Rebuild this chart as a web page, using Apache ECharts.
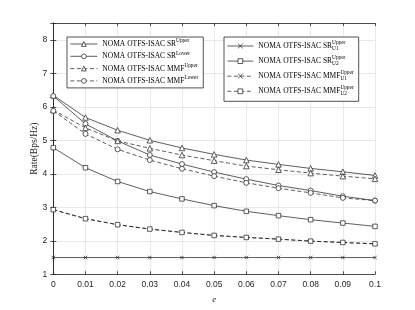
<!DOCTYPE html>
<html>
<head>
<meta charset="utf-8">
<script src="https://cdn.jsdelivr.net/npm/echarts@6/dist/echarts.min.js"></script>
<style>html,body{margin:0;padding:0;background:#fff;}#c{width:415px;height:310px;}</style>
</head>
<body>
<div id="c"></div>
<script>
const eValues = [0, 0.01, 0.02, 0.03, 0.04, 0.05, 0.06, 0.07, 0.08, 0.09, 0.1];
const srUpper   = [6.34, 5.68, 5.30, 5.00, 4.77, 4.58, 4.41, 4.28, 4.16, 4.06, 3.95];
const srLower   = [6.32, 5.49, 4.98, 4.56, 4.29, 4.05, 3.84, 3.65, 3.50, 3.33, 3.20];
const mmfUpper  = [5.90, 5.37, 4.98, 4.76, 4.56, 4.39, 4.23, 4.12, 4.02, 3.93, 3.85];
const mmfLower  = [5.88, 5.19, 4.73, 4.41, 4.15, 3.93, 3.73, 3.57, 3.43, 3.28, 3.20];
const srU1Upper = [1.5, 1.5, 1.5, 1.5, 1.5, 1.5, 1.5, 1.5, 1.5, 1.5, 1.5];
const srU2Upper = [4.78, 4.18, 3.77, 3.47, 3.25, 3.05, 2.88, 2.75, 2.63, 2.53, 2.43];
const mmfU1Upper = [2.93, 2.66, 2.48, 2.35, 2.25, 2.16, 2.10, 2.05, 1.99, 1.95, 1.91];
const mmfU2Upper = [2.93, 2.66, 2.48, 2.35, 2.25, 2.16, 2.10, 2.05, 1.99, 1.95, 1.91];

const legendLeftNames = ['SR_Upper', 'SR_Lower', 'MMF_Upper', 'MMF_Lower'];
const legendLeftMain = ['NOMA OTFS-ISAC SR', 'NOMA OTFS-ISAC SR', 'NOMA OTFS-ISAC MMF', 'NOMA OTFS-ISAC MMF'];
const legendLeftSup = ['Upper', 'Lower', 'Upper', 'Lower'];
const legendRightNames = ['SR_U1', 'SR_U2', 'MMF_U1', 'MMF_U2'];
const legendRightMain = ['NOMA OTFS-ISAC SR', 'NOMA OTFS-ISAC SR', 'NOMA OTFS-ISAC MMF', 'NOMA OTFS-ISAC MMF'];
const legendRightSup = ['Upper', 'Upper', 'Upper', 'Upper'];
const legendRightSub = ['U1', 'U2', 'U1', 'U2'];

const FONT_MAIN = 7.5, FONT_SCRIPT = 5.3;
const serif = '"Liberation Serif", "DejaVu Serif", serif';
const cv = document.createElement('canvas').getContext('2d');
function tw(t, fs) { cv.font = fs + 'px "Liberation Serif"'; return cv.measureText(t).width; }

const crossPath = 'path://M0,0L10,10M10,0L0,10';
const LW = 0.7, LC = '#1a1a1a';
function mkSeries(name, data, symbol, size, dashed) {
  return {
    name: name, type: 'line',
    data: eValues.map((x, i) => [x, data[i]]),
    symbol: symbol, symbolSize: size,
    lineStyle: { color: LC, width: LW, type: dashed ? [4, 2.5] : 'solid' },
    itemStyle: { color: '#fff', borderColor: LC, borderWidth: LW },
    emphasis: { disabled: true },
    animation: false
  };
}

const series = [
  mkSeries('SR_Upper', srUpper, 'triangle', 5.5, false),
  mkSeries('SR_Lower', srLower, 'circle', 5, false),
  mkSeries('MMF_Upper', mmfUpper, 'triangle', 5.5, true),
  mkSeries('MMF_Lower', mmfLower, 'circle', 5, true),
  mkSeries('SR_U1', srU1Upper, crossPath, 3.5, false),
  mkSeries('SR_U2', srU2Upper, 'rect', 4.5, false),
  mkSeries('MMF_U1', mmfU1Upper, crossPath, 3.5, true),
  mkSeries('MMF_U2', mmfU2Upper, 'rect', 4.5, true)
];

// legend geometry
const L1 = { left: 67, top: 37, pad: [3, 4, 3, 3], iw: 27, ih: 6, lh: 8, gap: 4.3 };
const L2 = { left: 224, top: 37, pad: [5, 4, 6, 3], iw: 26, ih: 6, lh: 8, gap: 7.1 };

function mkLegend(L, names, mains, spW) {
  return {
    data: names, orient: 'vertical', left: L.left, top: L.top,
    padding: L.pad, itemWidth: L.iw, itemHeight: L.ih, itemGap: L.gap,
    borderColor: '#262626', borderWidth: 0.8, backgroundColor: '#fff',
    selectedMode: false,
    itemStyle: { color: '#fff', borderColor: LC, borderWidth: LW },
    lineStyle: { width: LW, color: LC },
    textStyle: { fontFamily: serif, fontSize: FONT_MAIN, color: '#000', lineHeight: L.lh,
      rich: { sp: { width: spW, fontSize: FONT_MAIN, lineHeight: L.lh } } },
    formatter: function (n) { return mains[names.indexOf(n)] + '{sp|}'; }
  };
}

const sp1 = Math.max(...legendLeftSup.map(s => tw(s, FONT_SCRIPT))) + 1;
const sp2 = Math.max(...legendRightSup.map(s => tw(s, FONT_SCRIPT))) + 1;

const graphics = [];
legendLeftMain.forEach((m, i) => {
  const x = L1.left + L1.pad[3] + L1.iw + 5 + tw(m, FONT_MAIN) + 0.3;
  const cy = L1.top + L1.pad[0] + L1.lh / 2 + i * (L1.lh + L1.gap);
  graphics.push({ type: 'text', left: x, top: cy - 5.6, z: 100,
    style: { text: legendLeftSup[i], fontFamily: serif, fontSize: FONT_SCRIPT, fill: '#000' } });
});
legendRightMain.forEach((m, i) => {
  const x = L2.left + L2.pad[3] + L2.iw + 5 + tw(m, FONT_MAIN) + 0.3;
  const cy = L2.top + L2.pad[0] + L2.lh / 2 + i * (L2.lh + L2.gap);
  graphics.push({ type: 'text', left: x, top: cy - 6.2, z: 100,
    style: { text: legendRightSup[i], fontFamily: serif, fontSize: FONT_SCRIPT, fill: '#000' } });
  graphics.push({ type: 'text', left: x, top: cy - 0.3, z: 100,
    style: { text: legendRightSub[i], fontFamily: serif, fontSize: FONT_SCRIPT, fill: '#000' } });
});

const axisCol = '#262626';
const labelStyle = { fontFamily: '"Liberation Sans", Arial, sans-serif', fontSize: 8.5, color: axisCol };
const xFmt = v => String(Math.round(v * 100) / 100);
const yFmt = v => (Math.abs(v - Math.round(v)) < 1e-9 ? String(Math.round(v)) : '');

const chart = echarts.init(document.getElementById('c'), null, { renderer: 'canvas' });
chart.setOption({
  animation: false,
  backgroundColor: '#fff',
  grid: { left: 53.3, right: 40, top: 23, bottom: 35.7, containLabel: false },
  xAxis: [
    { type: 'value', position: 'bottom', min: 0, max: 0.1, interval: 0.01,
      axisLine: { show: true, lineStyle: { color: axisCol, width: 0.8 } },
      axisTick: { show: true, inside: true, length: 3, lineStyle: { color: axisCol, width: 0.8 } },
      axisLabel: Object.assign({ formatter: xFmt, margin: 6 }, labelStyle),
      splitLine: { show: true, lineStyle: { color: '#e3e3e3', width: 0.8 } },
      name: 'e', nameLocation: 'middle', nameGap: 21, nameMoveOverlap: false,
      nameTextStyle: { fontFamily: serif, fontStyle: 'italic', fontSize: 9, color: axisCol } },
    { type: 'value', position: 'top', min: 0, max: 0.1, interval: 0.01,
      axisLine: { show: true, lineStyle: { color: axisCol, width: 0.8 } },
      axisTick: { show: true, inside: true, length: 3, lineStyle: { color: axisCol, width: 0.8 } },
      axisLabel: { show: false }, splitLine: { show: false } }
  ],
  yAxis: [
    { type: 'value', position: 'left', min: 1, max: 8.5, interval: 1,
      axisLine: { show: true, lineStyle: { color: axisCol, width: 0.8 } },
      axisTick: { show: true, inside: true, length: 3, lineStyle: { color: axisCol, width: 0.8 } },
      axisLabel: Object.assign({ formatter: yFmt, margin: 6 }, labelStyle),
      splitLine: { show: true, lineStyle: { color: '#e3e3e3', width: 0.8 } },
      name: 'Rate(Bps/Hz)', nameLocation: 'middle', nameGap: 14, nameMoveOverlap: false,
      nameTextStyle: { fontFamily: serif, fontSize: 9.5, color: axisCol } },
    { type: 'value', position: 'right', min: 1, max: 8.5, interval: 1,
      axisLine: { show: true, lineStyle: { color: axisCol, width: 0.8 } },
      axisTick: { show: true, inside: true, length: 3, lineStyle: { color: axisCol, width: 0.8 } },
      axisLabel: { show: false }, splitLine: { show: false } }
  ],
  legend: [
    mkLegend(L1, legendLeftNames, legendLeftMain, sp1),
    mkLegend(L2, legendRightNames, legendRightMain, sp2)
  ],
  graphic: graphics,
  series: series
});
</script>
</body>
</html>
